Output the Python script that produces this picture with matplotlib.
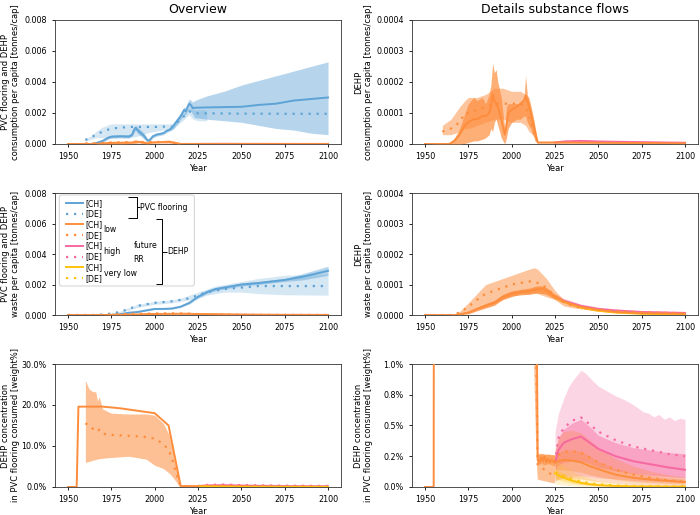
import matplotlib
matplotlib.use("Agg")
import matplotlib.pyplot as plt
from matplotlib.lines import Line2D
from matplotlib.patches import FancyBboxPatch
from matplotlib.ticker import FormatStrFormatter, PercentFormatter

# ---- PVC flooring consumption per capita [t/cap] ----
pvc_con_ch_years = [1950, 1963, 1966, 1970, 1973, 1975, 1980, 1985, 1987, 1988, 1989, 1990, 1992, 1994,
                    1996, 1997, 1999, 2001, 2003, 2005, 2007, 2009, 2011, 2013, 2015, 2017, 2018, 2019,
                    2020, 2021, 2022, 2023, 2030, 2040, 2050, 2060, 2070, 2080, 2090, 2100]
pvc_con_ch = [0, 0, 0.00005, 0.0002, 0.0004, 0.00047, 0.0005, 0.00048, 0.0006, 0.0009, 0.00105, 0.0009,
              0.0007, 0.0005, 0.00022, 0.00025, 0.0005, 0.0006, 0.00065, 0.0007, 0.00085, 0.00095, 0.0012,
              0.0015, 0.0018, 0.0022, 0.0021, 0.0024, 0.0026, 0.0025, 0.0023, 0.00234, 0.00236, 0.00238,
              0.0024, 0.00252, 0.0026, 0.0028, 0.0029, 0.003]
pvc_con_ch_lo = [0, 0, 0, 0.0001, 0.0003, 0.00038, 0.0004, 0.00038, 0.0005, 0.0007, 0.0009, 0.0007, 0.0005,
                 0.0003, 0.00012, 0.00015, 0.0004, 0.0005, 0.00055, 0.0006, 0.00075, 0.00085, 0.001, 0.0013,
                 0.0016, 0.0019, 0.0019, 0.0021, 0.0022, 0.0021, 0.0019, 0.0017, 0.0016, 0.0015, 0.0014,
                 0.0012, 0.001, 0.0009, 0.0007, 0.0006]
pvc_con_ch_hi = [0, 0, 0.0001, 0.0003, 0.0005, 0.00058, 0.0006, 0.0006, 0.0007, 0.0011, 0.0012, 0.0011,
                 0.0009, 0.0007, 0.0003, 0.00035, 0.0006, 0.0007, 0.00075, 0.0008, 0.00095, 0.00105, 0.0014,
                 0.0017, 0.002, 0.0024, 0.0023, 0.0027, 0.0029, 0.0028, 0.0027, 0.0028, 0.0031, 0.0034,
                 0.0038, 0.0041, 0.0044, 0.0047, 0.005, 0.0053]

pvc_con_de_years = [1960, 1963, 1966, 1970, 1975, 1980, 1985, 1990, 1995, 2000, 2005, 2010, 2012, 2015,
                    2018, 2020, 2022, 2025, 2050, 2075, 2100]
pvc_con_de = [0.00026, 0.0004, 0.0006, 0.0008, 0.001, 0.00105, 0.0011, 0.0011, 0.0011, 0.0011, 0.00112,
              0.0011, 0.0013, 0.0016, 0.0019, 0.0021, 0.002, 0.00198, 0.00196, 0.00195, 0.00195]
pvc_con_de_band_years = [1960, 1963, 1966, 1970, 1975, 1980, 1985, 1990, 1995, 2000, 2005, 2010, 2012,
                         2015, 2018, 2020, 2022, 2025, 2030]
pvc_con_de_lo = [0.00018, 0.0003, 0.0004, 0.0004, 0.00038, 0.0004, 0.0004, 0.0005, 0.0007, 0.0008, 0.0009,
                 0.0009, 0.0011, 0.0014, 0.0017, 0.0019, 0.0016, 0.0015, 0.0015]
pvc_con_de_hi = [0.00035, 0.0005, 0.0008, 0.0011, 0.0013, 0.0013, 0.0013, 0.0013, 0.0013, 0.0013, 0.0013,
                 0.0013, 0.0015, 0.0018, 0.0021, 0.0023, 0.0022, 0.0022, 0.0022]

# ---- DEHP consumption per capita [t/cap] ----
dehp_con_ch_years = [1950, 1964, 1967, 1970, 1973, 1975, 1978, 1980, 1983, 1985, 1987, 1988, 1989, 1990,
                     1991, 1992, 1994, 1996, 1997, 1998, 2000, 2003, 2005, 2007, 2008, 2009, 2011, 2013,
                     2015, 2025, 2050, 2075, 2100]
dehp_con_ch = [0, 0, 0.00001, 0.00003, 0.00006, 0.00007, 0.00008, 0.00008, 0.00009, 0.00009, 0.0001,
               0.00012, 0.00016, 0.00014, 0.00013, 0.00012, 0.00008, 0.00003, 0.00006, 0.0001, 0.00011,
               0.00012, 0.00013, 0.00014, 0.000155, 0.00014, 0.0001, 0.00005, 0.000005, 0.000005,
               0.000004, 0.000003, 0.000002]
dehp_con_ch_lo = [0, 0, 0, 0, 0.000002, 0.000005, 0.00001, 0.00001, 0.000015, 0.00002, 0.00003, 0.00005,
                  0.00004, 0.00007, 0.00008, 0.00006, 0.00002, 0, 0.00002, 0.00005, 0.00007, 0.00008,
                  0.00008, 0.00009, 0.00009, 0.00007, 0.00005, 0.00002, 0.000003, 0.000003, 0.000003,
                  0.000002, 0.000001]
dehp_con_ch_hi = [0, 0.000003, 0.00002, 0.00005, 0.0001, 0.00013, 0.00015, 0.00014, 0.00015, 0.00013,
                  0.00016, 0.00019, 0.00026, 0.00023, 0.00024, 0.0002, 0.00015, 0.00005, 0.00012, 0.00013,
                  0.00013, 0.00013, 0.00013, 0.00014, 0.00022, 0.00016, 0.00012, 0.00007, 0.000007,
                  0.000007, 0.000006, 0.000005, 0.000004]

dehp_con_de_years = [1960, 1965, 1970, 1973, 1975, 1980, 1985, 1990, 1995, 2000, 2005, 2008, 2010, 2012, 2015]
dehp_con_de = [0.00004, 0.00005, 0.00007, 0.0001, 0.0001, 0.00011, 0.00012, 0.00013, 0.00013, 0.00013,
               0.00013, 0.00012, 0.00009, 0.00005, 0]
dehp_con_de_lo = [0.00003, 0.00003, 0.00004, 0.00005, 0.00005, 0.00006, 0.00007, 0.00008, 0.00008, 0.00007,
                  0.00007, 0.00006, 0.00004, 0.00003, 0]
dehp_con_de_hi = [0.00006, 0.00008, 0.00012, 0.00014, 0.00015, 0.00015, 0.00016, 0.00018, 0.00018, 0.00017,
                  0.00017, 0.00016, 0.00015, 0.0001, 0]

fut_con_years = [2025, 2030, 2035, 2040, 2050, 2075, 2100]
dehp_con_high_ch = [0.000005, 0.000008, 0.000009, 0.00001, 0.000008, 0.000006, 0.000004]
dehp_con_high_hi = [0.000008, 0.000012, 0.000013, 0.000014, 0.000012, 0.000009, 0.000007]
dehp_con_high_lo = [0.000003, 0.000004, 0.000005, 0.000005, 0.000004, 0.000003, 0.000002]

# ---- PVC flooring waste per capita [t/cap] ----
pvc_waste_ch_years = [1950, 1975, 1980, 1985, 1990, 1995, 2000, 2005, 2010, 2015, 2020, 2025, 2030, 2035,
                      2040, 2050, 2060, 2075, 2085, 2100]
pvc_waste_ch = [0, 0, 0.00005, 0.00015, 0.0002, 0.0003, 0.0004, 0.0004, 0.00043, 0.00055, 0.0008, 0.0012,
                0.0015, 0.0017, 0.0018, 0.002, 0.0021, 0.0023, 0.0025, 0.0029]
pvc_waste_ch_lo = [0, 0, 0.00003, 0.00012, 0.00017, 0.00026, 0.00036, 0.00036, 0.00038, 0.0005, 0.00072,
                   0.0011, 0.0014, 0.0016, 0.0017, 0.0019, 0.002, 0.0022, 0.0023, 0.0026]
pvc_waste_ch_hi = [0, 0, 0.00007, 0.00018, 0.00023, 0.00034, 0.00044, 0.00044, 0.00048, 0.0006, 0.0009,
                   0.0013, 0.0016, 0.0018, 0.0019, 0.0021, 0.0022, 0.0024, 0.0027, 0.0032]

pvc_waste_de_years = [1950, 1965, 1970, 1975, 1980, 1985, 1990, 1995, 2000, 2005, 2010, 2015, 2020, 2025,
                      2030, 2035, 2040, 2050, 2060, 2075, 2100]
pvc_waste_de = [0, 0, 0.00003, 0.0001, 0.0002, 0.0004, 0.0006, 0.0007, 0.0008, 0.00085, 0.0009, 0.001,
                0.0011, 0.0013, 0.0015, 0.0016, 0.0017, 0.0018, 0.0019, 0.0019, 0.0019]
pvc_waste_de_lo = [0, 0, 0.00001, 0.00006, 0.00015, 0.00032, 0.0005, 0.0006, 0.0007, 0.00075, 0.0008, 0.0009,
                   0.001, 0.0011, 0.0013, 0.0014, 0.0015, 0.0015, 0.0014, 0.00133, 0.0013]
pvc_waste_de_hi = [0, 0, 0.00005, 0.00014, 0.00025, 0.00048, 0.0007, 0.0008, 0.0009, 0.00095, 0.001, 0.0011,
                   0.0013, 0.0015, 0.0017, 0.0019, 0.002, 0.0022, 0.0024, 0.0026, 0.0027]

# ---- DEHP waste per capita [t/cap] ----
dehp_waste_ch_years = [1950, 1968, 1975, 1980, 1985, 1990, 1995, 2000, 2005, 2010, 2015, 2018, 2020, 2025,
                       2030, 2035, 2040, 2045, 2050, 2060, 2075, 2100]
dehp_waste_ch = [0, 0, 0.000008, 0.00002, 0.00003, 0.00004, 0.00006, 0.00007, 0.000075, 0.000078, 0.000085,
                 0.000085, 0.00008, 0.00006, 0.000045, 0.000035, 0.000027, 0.000022, 0.000017, 0.00001,
                 0.000006, 0.000004]
dehp_waste_ch_lo = [0, 0, 0.000004, 0.000014, 0.000023, 0.000032, 0.000052, 0.000062, 0.000066, 0.000068,
                    0.000072, 0.00007, 0.000068, 0.000052, 0.00004, 0.00003, 0.000023, 0.000018, 0.000014,
                    0.000008, 0.000004, 0.000002]
dehp_waste_ch_hi = [0, 0, 0.000012, 0.000026, 0.000038, 0.000048, 0.000068, 0.000079, 0.000084, 0.000088,
                    0.000096, 0.000095, 0.00009, 0.000068, 0.00005, 0.00004, 0.000031, 0.000026, 0.00002,
                    0.000012, 0.000008, 0.000006]

dehp_waste_de_years = [1950, 1965, 1970, 1975, 1980, 1985, 1990, 1995, 2000, 2005, 2010, 2013, 2015, 2020,
                       2025, 2030, 2035, 2040, 2050, 2060, 2075, 2100]
dehp_waste_de = [0, 0, 0.000008, 0.000027, 0.00005, 0.00007, 0.00008, 0.00009, 0.0001, 0.000105, 0.00011,
                 0.00011, 0.000105, 0.00009, 0.00006, 0.000042, 0.00003, 0.000024, 0.000018, 0.000013,
                 0.000009, 0.000006]
dehp_waste_de_lo = [0, 0, 0.000002, 0.00001, 0.00002, 0.00003, 0.00004, 0.00005, 0.00006, 0.00007, 0.00007,
                    0.000075, 0.00007, 0.00006, 0.00005, 0.00003, 0.000024, 0.00002, 0.000012, 0.000008,
                    0.000005, 0.000003]
dehp_waste_de_hi = [0, 0, 0.000012, 0.00004, 0.00007, 0.0001, 0.00011, 0.00012, 0.00013, 0.00014, 0.00015,
                    0.000155, 0.00015, 0.00012, 0.00008, 0.00005, 0.00004, 0.00003, 0.00002, 0.000016,
                    0.00001, 0.000007]

fut_waste_years = [2025, 2030, 2040, 2050, 2060, 2075, 2100]
dehp_waste_high = [0.00006, 0.000047, 0.00003, 0.00002, 0.000015, 0.00001, 0.000007]
dehp_waste_high_hi = [0.00007, 0.000055, 0.000036, 0.000026, 0.00002, 0.000014, 0.00001]
dehp_waste_vlow = [0.00006, 0.000044, 0.000024, 0.000014, 0.000008, 0.000004, 0.000002]

# ---- DEHP concentration in PVC flooring consumed [weight %] ----
conc_ch_years = [1950, 1955, 1956, 1970, 1980, 1990, 2000, 2008, 2015, 2016, 2017, 2018, 2019, 2020, 2021,
                 2022, 2023, 2024, 2025]
conc_ch = [0, 0, 19.6, 19.6, 19.2, 18.6, 18.0, 15.0, 0.22, 0.2, 0.24, 0.21, 0.25, 0.2, 0.23, 0.2, 0.22,
           0.21, 0.2]
conc_ch_band_years = [2015, 2017, 2019, 2021, 2023, 2025]
conc_ch_band_lo = [0.18, 0.19, 0.18, 0.19, 0.18, 0.17]
conc_ch_band_hi = [0.26, 0.27, 0.26, 0.27, 0.26, 0.26]

conc_de_years = [1960, 1962, 1964, 1966, 1967, 1968, 1970, 1975, 1985, 1995, 2000, 2005, 2008, 2010, 2012,
                 2014, 2015, 2018, 2021, 2024, 2025]
conc_de = [15.5, 15.2, 14.3, 13.8, 13.5, 14.0, 13.0, 12.7, 12.5, 12.2, 11.8, 10.5, 9.0, 7.0, 4.0, 1.2, 0.18,
           0.15, 0.12, 0.09, 0.09]
conc_de_lo = [6.0, 6.2, 6.5, 6.7, 6.8, 6.9, 7.0, 7.2, 7.5, 6.8, 5.3, 4.5, 3.5, 2.6, 1.5, 0.4, 0.06, 0.05,
              0.04, 0.03, 0.03]
conc_de_hi = [26.0, 24.0, 23.3, 23.2, 21.0, 22.0, 19.0, 18.0, 17.8, 17.8, 17.5, 15.5, 13.0, 10.0, 6.0, 2.0,
              0.27, 0.27, 0.26, 0.26, 0.26]

fut_years = [2025, 2027, 2030, 2035, 2040, 2045, 2050, 2060, 2070, 2080, 2090, 2100]
low_ch = [0.2, 0.21, 0.22, 0.215, 0.2, 0.17, 0.145, 0.1, 0.075, 0.06, 0.05, 0.04]
low_ch_lo = [0.14, 0.14, 0.14, 0.13, 0.12, 0.1, 0.085, 0.06, 0.045, 0.035, 0.028, 0.022]
low_ch_hi = [0.26, 0.28, 0.3, 0.3, 0.29, 0.25, 0.21, 0.15, 0.115, 0.09, 0.075, 0.065]
low_de = [0.2, 0.26, 0.285, 0.29, 0.28, 0.24, 0.2, 0.14, 0.1, 0.075, 0.055, 0.043]
low_de_lo = [0.05, 0.06, 0.07, 0.07, 0.065, 0.055, 0.045, 0.03, 0.02, 0.015, 0.012, 0.01]
low_de_hi = [0.3, 0.4, 0.45, 0.46, 0.44, 0.38, 0.32, 0.23, 0.17, 0.13, 0.1, 0.08]
high_ch = [0.2, 0.3, 0.36, 0.39, 0.41, 0.36, 0.31, 0.25, 0.21, 0.185, 0.16, 0.14]
high_ch_lo = [0.14, 0.18, 0.2, 0.21, 0.21, 0.19, 0.16, 0.13, 0.11, 0.095, 0.085, 0.075]
high_ch_hi = [0.28, 0.4, 0.47, 0.52, 0.55, 0.49, 0.42, 0.36, 0.32, 0.3, 0.28, 0.27]
high_de = [0.2, 0.4, 0.48, 0.54, 0.565, 0.51, 0.45, 0.38, 0.33, 0.3, 0.27, 0.25]
vlow_ch = [0.11, 0.095, 0.075, 0.05, 0.033, 0.022, 0.015, 0.008, 0.005, 0.004, 0.003, 0.003]
vlow_ch_lo = [0.07, 0.06, 0.045, 0.03, 0.02, 0.013, 0.009, 0.005, 0.003, 0.002, 0.002, 0.002]
vlow_ch_hi = [0.15, 0.13, 0.11, 0.075, 0.05, 0.035, 0.025, 0.014, 0.009, 0.007, 0.006, 0.005]
vlow_de = [0.12, 0.11, 0.09, 0.065, 0.045, 0.03, 0.022, 0.012, 0.008, 0.006, 0.005, 0.005]
vlow_de_lo = [0.02, 0.02, 0.015, 0.01, 0.007, 0.005, 0.004, 0.002, 0.001, 0.001, 0.001, 0.001]
vlow_de_hi = [0.2, 0.2, 0.17, 0.13, 0.095, 0.07, 0.05, 0.03, 0.02, 0.015, 0.012, 0.01]

high_de_band_years = [2025, 2027, 2030, 2033, 2036, 2040, 2043, 2047, 2050, 2055, 2060, 2065, 2070, 2073,
                      2076, 2079, 2082, 2085, 2088, 2091, 2094, 2097, 2100]
high_de_hi = [0.45, 0.6, 0.72, 0.82, 0.88, 0.95, 0.92, 0.86, 0.82, 0.78, 0.74, 0.71, 0.67, 0.64, 0.61, 0.6,
              0.57, 0.59, 0.55, 0.57, 0.54, 0.56, 0.55]
high_de_lo = [0.05, 0.07, 0.08, 0.085, 0.088, 0.09, 0.088, 0.082, 0.075, 0.07, 0.065, 0.06, 0.055, 0.052,
              0.05, 0.048, 0.046, 0.044, 0.042, 0.04, 0.038, 0.036, 0.035]

BLUE = "#5ea3d6"
ORANGE = "#fd8d3c"
PINK = "#f768a1"
YELLOW = "#ffc20a"
DOT = (0, (1, 2.6))
LW = 1.4

plt.rcParams["font.family"] = "DejaVu Sans"
plt.rcParams["xtick.labelsize"] = 5.8
plt.rcParams["ytick.labelsize"] = 5.8
plt.rcParams["axes.linewidth"] = 0.6
plt.rcParams["xtick.major.width"] = 0.6
plt.rcParams["ytick.major.width"] = 0.6
plt.rcParams["xtick.major.size"] = 2.5
plt.rcParams["ytick.major.size"] = 2.5


def band(ax, x, lo, hi, color, alpha, z=1):
    ax.fill_between(x, lo, hi, color=color, alpha=alpha, lw=0, zorder=z)


def line(ax, x, y, color, dotted=False, z=3):
    if dotted:
        ax.plot(x, y, color=color, lw=LW + 0.2, ls=DOT, zorder=z)
    else:
        ax.plot(x, y, color=color, lw=LW, zorder=z)


fig = plt.figure(figsize=(7, 5.15), dpi=100)
L0, L1, W = 0.0786, 0.5886, 0.4086
ax_a = fig.add_axes([L0, 0.7204, W, 0.2408])
ax_b = fig.add_axes([L1, 0.7204, W, 0.2408])
ax_c = fig.add_axes([L0, 0.3883, W, 0.2369])
ax_d = fig.add_axes([L1, 0.3883, W, 0.2369])
ax_e = fig.add_axes([L0, 0.0544, W, 0.2388])
ax_f = fig.add_axes([L1, 0.0544, W, 0.2388])

# consumption
for ax, with_pvc in [(ax_a, True), (ax_b, False)]:
    if with_pvc:
        band(ax, pvc_con_de_band_years, pvc_con_de_lo, pvc_con_de_hi, BLUE, 0.25)
        band(ax, pvc_con_ch_years, pvc_con_ch_lo, pvc_con_ch_hi, BLUE, 0.45)
        line(ax, pvc_con_de_years, pvc_con_de, BLUE, dotted=True)
        line(ax, pvc_con_ch_years, pvc_con_ch, BLUE)
    band(ax, dehp_con_de_years, dehp_con_de_lo, dehp_con_de_hi, ORANGE, 0.5, z=4)
    band(ax, dehp_con_ch_years, dehp_con_ch_lo, dehp_con_ch_hi, ORANGE, 0.7, z=4)
    band(ax, fut_con_years, dehp_con_high_lo, dehp_con_high_hi, PINK, 0.5, z=4)
    line(ax, fut_con_years, dehp_con_high_ch, PINK, z=5)
    line(ax, dehp_con_de_years, dehp_con_de, ORANGE, dotted=True, z=5)
    line(ax, dehp_con_ch_years, dehp_con_ch, ORANGE, z=5)

# waste
for ax, with_pvc in [(ax_c, True), (ax_d, False)]:
    if with_pvc:
        band(ax, pvc_waste_de_years, pvc_waste_de_lo, pvc_waste_de_hi, BLUE, 0.25)
        band(ax, pvc_waste_ch_years, pvc_waste_ch_lo, pvc_waste_ch_hi, BLUE, 0.45)
        line(ax, pvc_waste_de_years, pvc_waste_de, BLUE, dotted=True)
        line(ax, pvc_waste_ch_years, pvc_waste_ch, BLUE)
    band(ax, fut_waste_years, dehp_waste_vlow, dehp_waste_high_hi, PINK, 0.3, z=3)
    band(ax, dehp_waste_de_years, dehp_waste_de_lo, dehp_waste_de_hi, ORANGE, 0.5, z=4)
    band(ax, dehp_waste_ch_years, dehp_waste_ch_lo, dehp_waste_ch_hi, ORANGE, 0.8, z=4)
    line(ax, fut_waste_years, dehp_waste_high, PINK, z=5)
    line(ax, fut_waste_years, dehp_waste_vlow, YELLOW, z=5)
    line(ax, dehp_waste_de_years, dehp_waste_de, ORANGE, dotted=True, z=5)
    line(ax, dehp_waste_ch_years, dehp_waste_ch, ORANGE, z=5)

# concentration
for ax in [ax_e, ax_f]:
    band(ax, high_de_band_years, high_de_lo, high_de_hi, PINK, 0.28, z=1)
    band(ax, fut_years, high_ch_lo, high_ch_hi, PINK, 0.45, z=1.1)
    band(ax, fut_years, low_de_lo, low_de_hi, ORANGE, 0.3, z=1.2)
    band(ax, fut_years, low_ch_lo, low_ch_hi, ORANGE, 0.35, z=1.3)
    band(ax, fut_years, vlow_de_lo, vlow_de_hi, YELLOW, 0.2, z=1.4)
    band(ax, fut_years, vlow_ch_lo, vlow_ch_hi, YELLOW, 0.3, z=1.5)
    band(ax, conc_de_years, conc_de_lo, conc_de_hi, ORANGE, 0.55, z=1.6)
    band(ax, conc_ch_band_years, conc_ch_band_lo, conc_ch_band_hi, ORANGE, 0.6, z=1.7)
    line(ax, fut_years, high_de, PINK, dotted=True)
    line(ax, fut_years, high_ch, PINK)
    line(ax, fut_years, low_de, ORANGE, dotted=True)
    line(ax, fut_years, low_ch, ORANGE)
    line(ax, fut_years, vlow_de, YELLOW, dotted=True)
    line(ax, fut_years, vlow_ch, YELLOW)
    line(ax, conc_de_years, conc_de, ORANGE, dotted=True)
    line(ax, conc_ch_years, conc_ch, ORANGE)

# axes cosmetics
ylabels = {
    ax_a: "PVC flooring and DEHP\nconsumption per capita [tonnes/cap]",
    ax_b: "DEHP\nconsumption per capita [tonnes/cap]",
    ax_c: "PVC flooring and DEHP\nwaste per capita [tonnes/cap]",
    ax_d: "DEHP\nwaste per capita [tonnes/cap]",
    ax_e: "DEHP concentration\nin PVC flooring consumed [weight%]",
    ax_f: "DEHP concentration\nin PVC flooring consumed [weight%]",
}
for ax, lab in ylabels.items():
    ax.set_xlim(1942.5, 2107.5)
    ax.set_xticks([1950, 1975, 2000, 2025, 2050, 2075, 2100])
    ax.set_xlabel("Year", fontsize=6, labelpad=2)
    ax.set_ylabel(lab, fontsize=6)
    for s in ax.spines.values():
        s.set_color("#333333")
for ax in [ax_a, ax_c, ax_e]:
    ax.yaxis.set_label_coords(-0.122, 0.5)
for ax in [ax_b, ax_d, ax_f]:
    ax.yaxis.set_label_coords(-0.136, 0.5)

for ax in [ax_a, ax_c]:
    ax.set_ylim(0, 0.008)
    ax.set_yticks([0, 0.002, 0.004, 0.006, 0.008])
    ax.yaxis.set_major_formatter(FormatStrFormatter("%.3f"))
for ax in [ax_b, ax_d]:
    ax.set_ylim(0, 0.0004)
    ax.set_yticks([0, 0.0001, 0.0002, 0.0003, 0.0004])
    ax.yaxis.set_major_formatter(FormatStrFormatter("%.4f"))
ax_e.set_ylim(0, 30)
ax_e.set_yticks([0, 10, 20, 30])
ax_f.set_ylim(0, 1)
ax_f.set_yticks([0, 0.25, 0.5, 0.75, 1.0])
for ax in [ax_e, ax_f]:
    ax.yaxis.set_major_formatter(PercentFormatter(xmax=100, decimals=1))

ax_a.set_title("Overview", fontsize=9, pad=5)
ax_b.set_title("Details substance flows", fontsize=9, pad=5)

# legend with brackets
handles = []
for c in [BLUE, ORANGE, PINK, YELLOW]:
    handles.append(Line2D([], [], color=c, lw=LW))
    handles.append(Line2D([], [], color=c, lw=LW + 0.2, ls=DOT))
labels = ["[CH]", "[DE]"] * 4
ax_c.add_patch(FancyBboxPatch((0.015, 0.238), 0.472, 0.746, transform=ax_c.transAxes,
                              boxstyle="round,pad=0,rounding_size=0.008", mutation_aspect=286 / 122,
                              facecolor="white", edgecolor="#cccccc", lw=0.7, alpha=0.9, zorder=8))
ax_c.legend(handles, labels, loc="upper left", bbox_to_anchor=(0.0234, 0.985), borderpad=0,
            frameon=False, fontsize=5.6, handlelength=2.3, handletextpad=0.3, labelspacing=0.22)
ax_c.get_legend().set_zorder(9)

tk = dict(transform=ax_c.transAxes, fontsize=5.6, va="center", zorder=10)
ax_c.text(0.170, 0.702, "low", **tk)
ax_c.text(0.170, 0.519, "high", **tk)
ax_c.text(0.170, 0.342, "very low", **tk)
ax_c.text(0.274, 0.512, "future\nRR", linespacing=1.6, **tk)
ax_c.text(0.297, 0.882, "PVC flooring", **tk)
ax_c.text(0.392, 0.518, "DEHP", **tk)
bk = dict(transform=ax_c.transAxes, color="black", lw=0.7, zorder=10, clip_on=False,
          solid_capstyle="butt")
ax_c.plot([0.256, 0.2867, 0.2867, 0.256], [0.970, 0.970, 0.793, 0.793], **bk)
ax_c.plot([0.2867, 0.296], [0.882, 0.882], **bk)
ax_c.plot([0.353, 0.373, 0.373, 0.353], [0.784, 0.784, 0.252, 0.252], **bk)
ax_c.plot([0.373, 0.39], [0.518, 0.518], **bk)

fig.savefig("out.png", dpi=100)
